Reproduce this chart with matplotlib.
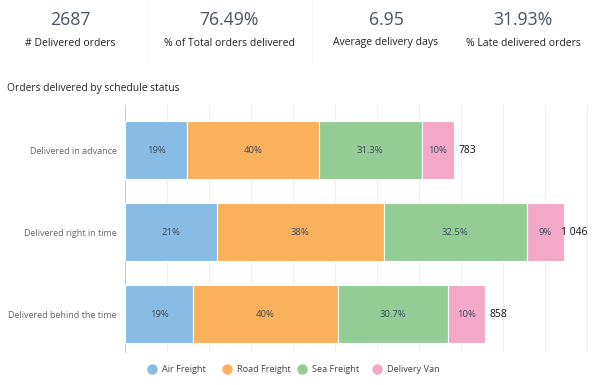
import matplotlib
matplotlib.use("Agg")
import matplotlib.pyplot as plt
from matplotlib.lines import Line2D
import numpy as np

plt.rcParams['font.family'] = ['Open Sans', 'DejaVu Sans']

kpi_values = ["2687", "76.49%", "6.95", "31.93%"]
kpi_labels = ["# Delivered orders", "% of Total orders delivered", "Average delivery days", "% Late delivered orders"]

categories = ["Delivered in advance", "Delivered right in time", "Delivered behind the time"]
series = ["Air Freight", "Road Freight", "Sea Freight", "Delivery Van"]
air = [148, 218, 163]
road = [313, 398, 343]
sea = [245, 340, 263]
van = [77, 90, 89]
decimals = [0, 0, 1, 0]
colors = ["#89BCE4", "#FBB05C", "#93CD95", "#F4A8C8"]

W, H = 595, 385
fig = plt.figure(figsize=(W / 100, H / 100), dpi=100)
fig.patch.set_facecolor("white")

# KPI header
kpi_x = [70, 229, 386, 523]
for x, v, l in zip(kpi_x, kpi_values, kpi_labels):
    fig.text(x / W, 1 - 20 / H, v, ha="center", va="center", fontsize=12.7, color="#4A5563")
    fig.text(x / W, 1 - 43 / H, l, ha="center", va="center", fontsize=7.5, color="#222222")
for sx in [148, 312]:
    fig.add_artist(Line2D([sx / W, sx / W], [1, 1 - 63 / H], color="#F8F8F8", linewidth=0.8))

fig.text(7 / W, 1 - 88 / H, "Orders delivered by schedule status", ha="left", va="center",
         fontsize=7.4, color="#222222")

ax = fig.add_axes([125 / W, 1 - 352 / H, (590 - 125) / W, (352 - 105) / H])
data = np.array([air, road, sea, van], dtype=float)
totals = data.sum(axis=0)
y = np.arange(len(categories))
left = np.zeros(len(categories))
for i, (vals, c) in enumerate(zip(data, colors)):
    ax.barh(y, vals, left=left, height=0.71, color=c, edgecolor="white", linewidth=0.8, zorder=3)
    for j in range(len(categories)):
        pct = vals[j] / totals[j] * 100
        txt = f"{pct:.{decimals[i]}f}%"
        ax.text(left[j] + vals[j] / 2, y[j], txt, ha="center", va="center",
                fontsize=6.8, color="#3A4A5A", zorder=4)
    left += vals

xmax = 1107
for j in range(len(categories)):
    t = f"{int(totals[j]):,}".replace(",", " ")
    if totals[j] + 80 > xmax:
        ax.text(xmax - 7, y[j], t, ha="right", va="center", fontsize=7.5, color="#111111", zorder=4)
    else:
        ax.text(totals[j] + 10, y[j], t, ha="left", va="center", fontsize=7.5, color="#111111", zorder=4)

ax.set_xlim(0, xmax)
ax.set_ylim(2.46, -0.55)
ax.set_xticks(np.arange(0, 1101, 100))
ax.grid(axis="x", color="#F0F0F0", linewidth=0.8, zorder=0)
ax.tick_params(axis="x", length=0, labelbottom=False)
ax.tick_params(axis="y", length=0, pad=6)
ax.set_yticks(y)
ax.set_yticklabels(categories, fontsize=6.5, color="#666666")
for s in ["top", "right", "bottom"]:
    ax.spines[s].set_visible(False)
ax.spines["left"].set_color("#CCCCCC")
ax.spines["left"].set_linewidth(0.8)

# legend: evenly spaced entries
for i, (name, c) in enumerate(zip(series, colors)):
    h = Line2D([0], [0], marker="o", linestyle="none", markersize=6.5,
               markerfacecolor=c, markeredgecolor=c)
    fig.legend([h], [name], loc="center left",
               bbox_to_anchor=((152 - 4.5 + 75 * i) / W, 1 - 370 / H),
               frameon=False, fontsize=6.6, handlelength=1.0, handletextpad=0.6,
               borderpad=0, borderaxespad=0, labelcolor="#444444")

fig.savefig("out.png", dpi=100, facecolor="white")
